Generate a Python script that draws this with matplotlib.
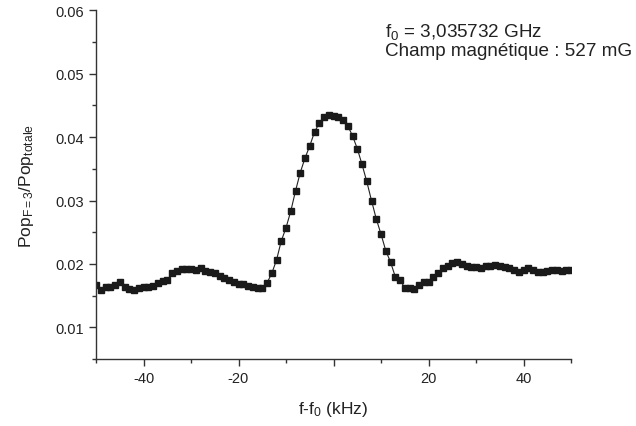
import numpy as np
import matplotlib.pyplot as plt
from matplotlib.ticker import MultipleLocator, FixedLocator

plt.rcParams['font.family'] = ['Liberation Sans', 'DejaVu Sans']
plt.rcParams['mathtext.fontset'] = 'custom'
plt.rcParams['mathtext.rm'] = 'Liberation Sans'
plt.rcParams['mathtext.it'] = 'Liberation Sans'

# detuning f - f0 (kHz), one point per kHz
freq = np.arange(-50, 51, 1)

# Pop(F=3)/Pop(totale)
pop = [0.0167, 0.0159, 0.0164, 0.0163, 0.0166, 0.0171, 0.0164, 0.0161, 0.0159, 0.0162,
       0.0164, 0.0164, 0.0165, 0.0170, 0.0173, 0.0175, 0.0185, 0.0189, 0.0192, 0.0192,
       0.0192, 0.0190, 0.0193, 0.0189, 0.0187, 0.0185, 0.0181, 0.0177, 0.0174, 0.0172,
       0.0169, 0.0168, 0.0165, 0.0164, 0.0162, 0.0162, 0.0170, 0.0185, 0.0206, 0.0236,
       0.0257, 0.0283, 0.0315, 0.0344, 0.0367, 0.0386, 0.0408, 0.0422, 0.0431, 0.0435,
       0.0434, 0.0432, 0.0427, 0.0418, 0.0402, 0.0382, 0.0357, 0.0330, 0.0300, 0.0271,
       0.0247, 0.0221, 0.0203, 0.0180, 0.0175, 0.0162, 0.0162, 0.0160, 0.0166, 0.0171,
       0.0171, 0.0179, 0.0186, 0.0193, 0.0197, 0.0201, 0.0203, 0.0200, 0.0196, 0.0195,
       0.0195, 0.0193, 0.0197, 0.0196, 0.0198, 0.0197, 0.0195, 0.0193, 0.0190, 0.0188,
       0.0191, 0.0193, 0.0191, 0.0188, 0.0187, 0.0189, 0.0190, 0.0191, 0.0189, 0.0190,
       0.0190]

x_ticks = [-40, -20, 0, 20, 40]
x_labels = ['-40', '-20', '', '20', '40']

fig = plt.figure(figsize=(6.36, 4.27), dpi=100)
ax = fig.add_axes([96/636, 1 - 360/427, 475/636, (360 - 11.3)/427])

ax.plot(freq, pop, color='#222222', lw=0.8, marker='s', markersize=4.5,
        markerfacecolor='#1a1a1a', markeredgecolor='#1a1a1a')

ax.set_xlim(-50, 50)
ax.set_ylim(0.005, 0.06)

ax.xaxis.set_major_locator(FixedLocator(x_ticks))
ax.set_xticklabels(x_labels)
ax.xaxis.set_minor_locator(FixedLocator([-50, -30, -10, 10, 30, 50]))
ax.yaxis.set_minor_locator(MultipleLocator(0.005))
ax.set_yticks([0.01, 0.02, 0.03, 0.04, 0.05, 0.06])
ax.set_yticklabels(['0.01', '0.02', '0.03', '0.04', '0.05', '0.06'])

for s in ['top', 'right']:
    ax.spines[s].set_visible(False)
for s in ['left', 'bottom']:
    ax.spines[s].set_color('#333333')
    ax.spines[s].set_linewidth(1.0)

ax.tick_params(which='major', direction='out', length=5, width=1.0,
               labelsize=10.5, colors='#333333', labelcolor='#222222')
ax.tick_params(which='minor', direction='out', length=3, width=1.0, colors='#333333')

ax.set_xlabel('f-f$_0$ (kHz)', fontsize=12.5, color='#222222', labelpad=10)
ax.set_ylabel('Pop$_{F=3}$/Pop$_{totale}$', fontsize=12.5, color='#222222', labelpad=14)

fig.text(385/636, 1 - 37/427, 'f$_0$ = 3,035732 GHz', fontsize=13.6,
         color='#222222', va='baseline')
fig.text(385/636, 1 - 56/427, 'Champ magnétique : 527 mG', fontsize=13.6,
         color='#222222', va='baseline')

fig.savefig('out.png', dpi=100)
